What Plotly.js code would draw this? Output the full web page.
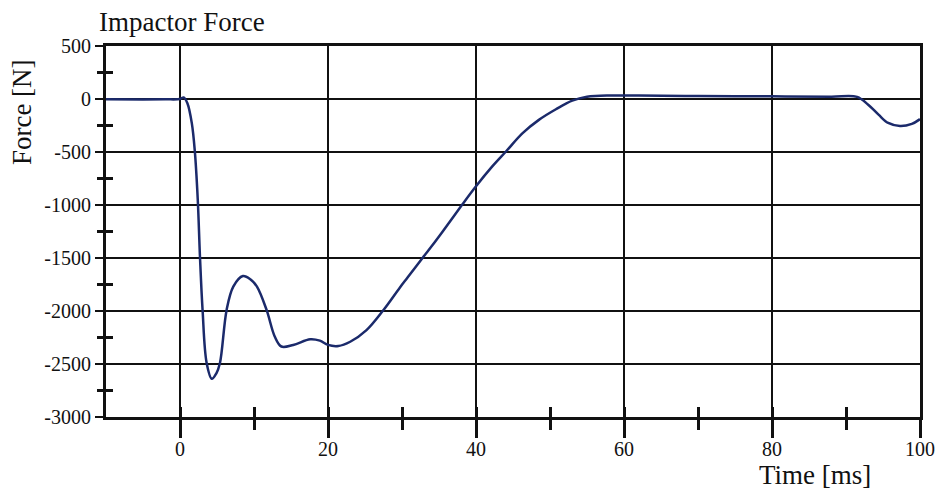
<!DOCTYPE html>
<html>
<head>
<meta charset="utf-8">
<script src="https://cdn.plot.ly/plotly-3.0.1.min.js"></script>
<style>html,body{margin:0;padding:0;background:#fff;}#chart{width:937px;height:489px;}</style>
</head>
<body>
<div id="chart"></div>
<script>
// Time in ms
const timeMs = [-10, -5, -2, 0, 0.5, 1.0, 1.6, 2.0, 2.4, 2.7, 3.05, 3.6, 4.3, 4.9, 5.4, 6.3, 7.2, 8.5, 9.5, 10.4, 11.7, 12.8, 13.7, 15.3, 17.6, 18.9, 20.0, 21.4, 23.0, 25.2, 27.5, 29.7, 30.8, 32.8, 34.0, 35.5, 36.8, 38.2, 40, 42.2, 44.05, 46.3, 48.5, 50.8, 53, 55, 58.4, 62, 70, 80, 88, 91.5, 93.0, 94.4, 95.7, 97.3, 98.9, 100];
// Impactor force in N
const forceN = [-3, -5, -3, 0, 15, -40, -230, -490, -950, -1490, -1990, -2490, -2640, -2590, -2490, -1990, -1770, -1670, -1700, -1770, -1990, -2240, -2335, -2320, -2267, -2280, -2320, -2330, -2290, -2180, -1990, -1780, -1680, -1497, -1390, -1250, -1125, -990, -823, -636, -495, -322, -197, -97, -16, 22, 33, 32, 28, 25, 22, 20, -54, -148, -226, -255, -235, -190];

const xTicks = [0, 20, 40, 60, 80, 100];
const yTicks = [500, 0, -500, -1000, -1500, -2000, -2500, -3000];
const yMinorTicks = [250, -250, -750, -1250, -1750, -2250, -2750];
const xMinorTicks = [10, 30, 50, 70, 90];

const serif = 'Liberation Serif, Times New Roman, serif';

const traces = [
  {x: timeMs, y: forceN, type: 'scatter', mode: 'lines',
   line: {color: '#1b2a6b', width: 2.5, shape: 'spline', smoothing: 1.0},
   hoverinfo: 'skip', showlegend: false},
  {x: [-10, 100], y: [-3000, 500], xaxis: 'x2', yaxis: 'y2', type: 'scatter', mode: 'markers',
   marker: {opacity: 0}, hoverinfo: 'skip', showlegend: false}
];

const layout = {
  width: 937, height: 489,
  font: {family: serif, color: '#111'},
  paper_bgcolor: '#ffffff', plot_bgcolor: '#ffffff',
  margin: {l: 106, r: 17, t: 46, b: 72},
  showlegend: false,
  title: {text: 'Impactor Force', font: {family: serif, size: 27, color: '#111'},
          xref: 'container', x: 99/937, xanchor: 'left', yref: 'container', y: 1 - 22/489, yanchor: 'middle'},
  xaxis: {
    range: [-10, 100], tickvals: xTicks, ticktext: xTicks.map(String),
    showgrid: true, gridcolor: '#111', gridwidth: 1.5,
    showline: true, linecolor: '#111', linewidth: 3, mirror: true,
    ticks: 'outside', ticklen: 18, tickwidth: 3, tickcolor: '#111',
    minor: {tickvals: xMinorTicks, ticks: 'outside', ticklen: 10, tickwidth: 3, tickcolor: '#111', showgrid: false},
    tickfont: {family: serif, size: 20, color: '#111'},
    ticklabelstandoff: -6,
    zeroline: false, fixedrange: true
  },
  xaxis2: {
    range: [-10, 100], overlaying: 'x', anchor: 'y', side: 'bottom',
    tickvals: xTicks.concat(xMinorTicks), showticklabels: false, showgrid: false, showline: false,
    ticks: 'inside', ticklen: 10, tickwidth: 3, tickcolor: '#111', zeroline: false
  },
  yaxis: {
    range: [-3000, 500], tickvals: yTicks, ticktext: yTicks.map(String),
    showgrid: true, gridcolor: '#111', gridwidth: 1.5,
    showline: true, linecolor: '#111', linewidth: 3, mirror: true,
    ticks: 'outside', ticklen: 8, tickwidth: 2.5, tickcolor: '#111',
    minor: {tickvals: yMinorTicks, ticks: 'outside', ticklen: 6, tickwidth: 3, tickcolor: '#111', showgrid: false},
    tickfont: {family: serif, size: 20, color: '#111'},
    ticklabelstandoff: 0,
    zeroline: false, fixedrange: true
  },
  yaxis2: {
    range: [-3000, 500], overlaying: 'y', anchor: 'x', side: 'left',
    tickvals: yMinorTicks, showticklabels: false, showgrid: false, showline: false,
    ticks: 'inside', ticklen: 7, tickwidth: 3, tickcolor: '#111', zeroline: false
  },
  annotations: [
    {text: 'Force [N]', textangle: -90, xref: 'paper', yref: 'paper',
     x: (22 - 106) / 815, y: (417 - 112) / 371, xanchor: 'center', yanchor: 'middle',
     showarrow: false, font: {family: serif, size: 27, color: '#111'}},
    {text: 'Time [ms]', xref: 'paper', yref: 'paper',
     x: (816 - 106) / 815, y: (417 - 475) / 371, xanchor: 'center', yanchor: 'middle',
     showarrow: false, font: {family: serif, size: 27, color: '#111'}}
  ]
};

Plotly.newPlot('chart', traces, layout, {displayModeBar: false, staticPlot: true});
</script>
</body>
</html>
